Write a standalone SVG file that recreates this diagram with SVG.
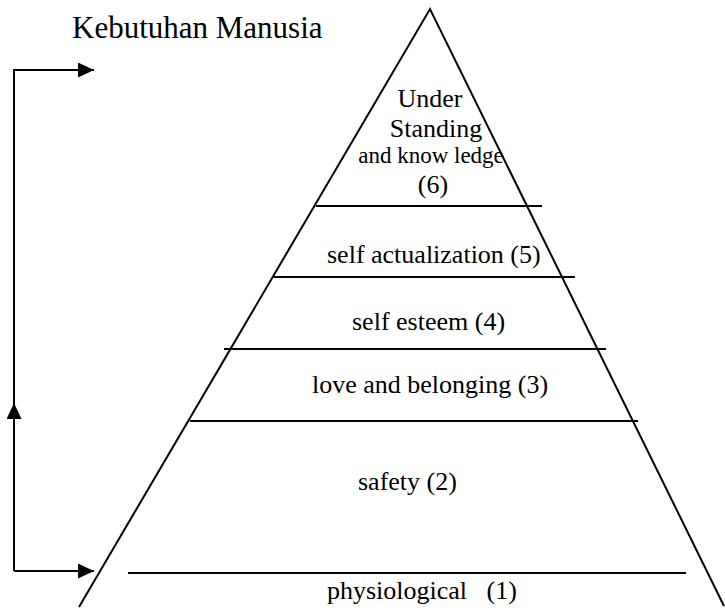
<svg xmlns="http://www.w3.org/2000/svg" width="725" height="612" viewBox="0 0 725 612">
<style>
.ln{stroke:#000;stroke-width:2;fill:none}
.t{font-family:"Liberation Serif","Times New Roman","DejaVu Serif",serif;fill:#000;font-size:26px}
</style>
<defs>
<marker id="ah" markerWidth="16" markerHeight="15" refX="16" refY="7.5" orient="auto" markerUnits="userSpaceOnUse" viewBox="0 0 16 15">
<path d="M0,0 L16,7.5 L0,15 z" fill="#000"/>
</marker>
</defs>
<rect width="725" height="612" fill="#fff"/>
<text class="t" x="72" y="38" style="font-size:31px">Kebutuhan Manusia</text>
<g id="connectors">
<path class="ln" d="M14,571 L14,70 L94,70" marker-end="url(#ah)"/>
<path class="ln" d="M14,571 L94,571" marker-end="url(#ah)"/>
<path class="ln" d="M14,500 L14,403" marker-end="url(#ah)"/>
</g>
<g id="pyramid">
<path class="ln" d="M79,607 L430,9 L724,606"/>
<line class="ln" x1="316" y1="206" x2="542" y2="206"/>
<line class="ln" x1="272" y1="277" x2="575" y2="277"/>
<line class="ln" x1="224" y1="349" x2="606" y2="349"/>
<line class="ln" x1="190" y1="421" x2="638" y2="421"/>
<line class="ln" x1="128" y1="573" x2="686" y2="573"/>
</g>
<g id="level6">
<text class="t" x="430" y="107" text-anchor="middle">Under</text>
<text class="t" x="436" y="137" text-anchor="middle">Standing</text>
<text class="t" x="431" y="163" text-anchor="middle" style="font-size:23px">and know ledge</text>
<text class="t" x="433" y="193" text-anchor="middle">(6)</text>
</g>
<g id="level5"><text class="t" x="327" y="263">self actualization (5)</text></g>
<g id="level4"><text class="t" x="352" y="330">self esteem (4)</text></g>
<g id="level3"><text class="t" x="312" y="393">love and belonging (3)</text></g>
<g id="level2"><text class="t" x="358" y="490">safety (2)</text></g>
<g id="level1"><text class="t" x="327" y="599" xml:space="preserve">physiological   (1)</text></g>
</svg>
